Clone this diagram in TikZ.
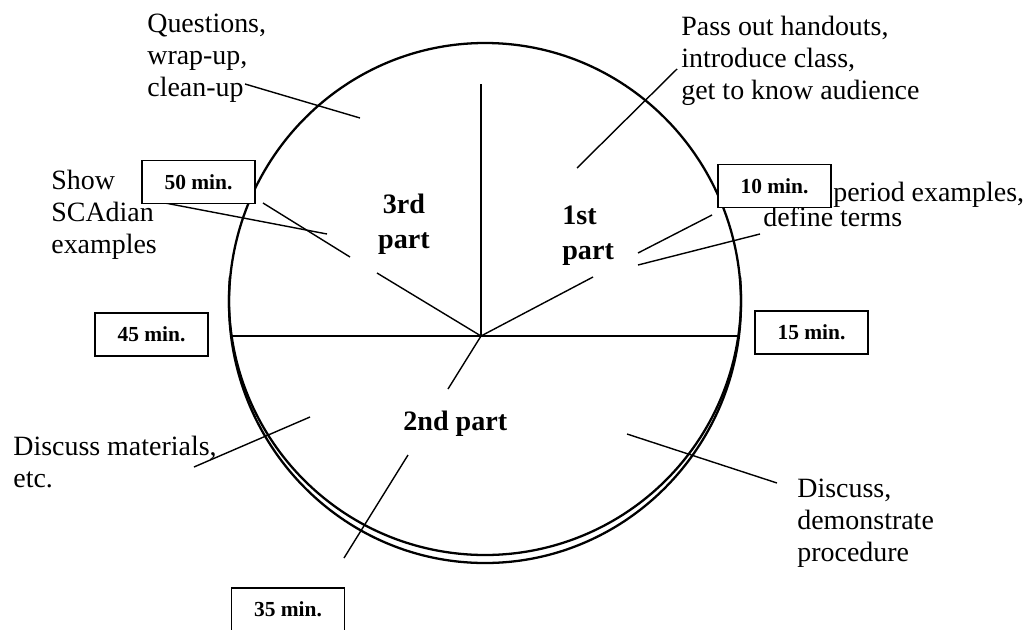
\documentclass[tikz,border=0pt]{standalone}
\usepackage{fontspec}
\setmainfont{Liberation Serif}
\begin{document}
\begin{tikzpicture}[x=0.02cm,y=-0.02cm,
  txt/.style={font=\fontsize{15.9}{18.4}\selectfont, align=left, inner sep=0pt, anchor=north west, execute at begin node=\strut},
  lbl/.style={font=\bfseries\fontsize{16}{19.8}\selectfont, inner sep=0pt, execute at begin node=\strut},
  minbox/.style={draw, line width=0.85pt, fill=white, minimum width=2.26cm, minimum height=0.86cm, inner sep=0pt, font=\bfseries\fontsize{12.2}{14}\selectfont},
  thin/.style={line width=0.8pt},
  rim/.style={line width=1.3pt}]
\useasboundingbox (0,0) rectangle (1027,629);
\clip (0,0) rectangle (1027,629);
% rim
\draw[rim] (485,303) ellipse[x radius=256, y radius=260];
\draw[rim] (485,299) ++(185:256) arc[start angle=185, end angle=-5, radius=256];
% centre and named points
\coordinate (C) at (481,336);
\coordinate (top) at (481,84);
\coordinate (hl) at (231,336);
\coordinate (hr) at (740,336);
\coordinate (r1) at (377,273);
\coordinate (r2) at (593,277);
\coordinate (r3) at (448,389);
% dividers
\draw[thin] (C) -- (top);
\draw[thin] (hl) -- (hr);
\draw[thin] (C) -- (r1);
\draw[thin] (C) -- (r2);
\draw[thin] (C) -- (r3);
% texts
\node[txt] (q) at (147,13.3) {Questions,\\wrap-up,\\clean-up};
\node[txt] (p) at (681,15.3) {Pass out handouts,\\introduce class,\\get to know audience};
\node[txt] (s) at (51,169.3) {Show\\SCAdian\\examples};
\node[txt] (pe) at (833,178.3) {period examples,};
\node[txt] (dt) at (763,203.3) {define terms};
\node[txt] (dm) at (13,435.3) {Discuss materials,\\etc.};
\node[txt] (dd) at (797,478.3) {Discuss,\\demonstrate\\procedure};
\node[lbl, align=center, anchor=north] (p3) at (404,193.5) {3rd\\part};
\node[lbl, align=left, anchor=north west] (p1) at (562,205.5) {1st\\part};
\node[lbl, anchor=base west] (p2) at (403,430) {2nd part};
% connectors
\coordinate (qa) at (245,84);   \coordinate (qb) at (360,118);
\coordinate (sa) at (165,203);  \coordinate (sb) at (327,234);
\coordinate (pa) at (677,69);   \coordinate (pb) at (577,168);
\coordinate (ua) at (350,257);  \coordinate (ub) at (263,203);
\coordinate (ta) at (638,253);  \coordinate (tb) at (712,215);
\coordinate (da) at (638,265);  \coordinate (db) at (760,234);
\coordinate (fa) at (408,455);  \coordinate (fb) at (344,558);
\coordinate (ma) at (194,467);  \coordinate (mb) at (310,417);
\coordinate (ea) at (627,434);  \coordinate (eb) at (777,483);
\draw[thin] (qa) -- (qb);
\draw[thin] (sa) -- (sb);
\draw[thin] (pa) -- (pb);
\draw[thin] (ua) -- (ub);
\draw[thin] (ta) -- (tb);
\draw[thin] (da) -- (db);
\draw[thin] (fa) -- (fb);
\draw[thin] (ma) -- (mb);
\draw[thin] (ea) -- (eb);
% time boxes
\node[minbox] (m50) at (198.5,182) {50 min.};
\node[minbox] (m10) at (774.5,186) {10 min.};
\node[minbox] (m45) at (151.5,334.5) {45 min.};
\node[minbox] (m15) at (811.5,332.5) {15 min.};
\node[minbox] (m35) at (288,609.5) {35 min.};
\end{tikzpicture}
\end{document}
